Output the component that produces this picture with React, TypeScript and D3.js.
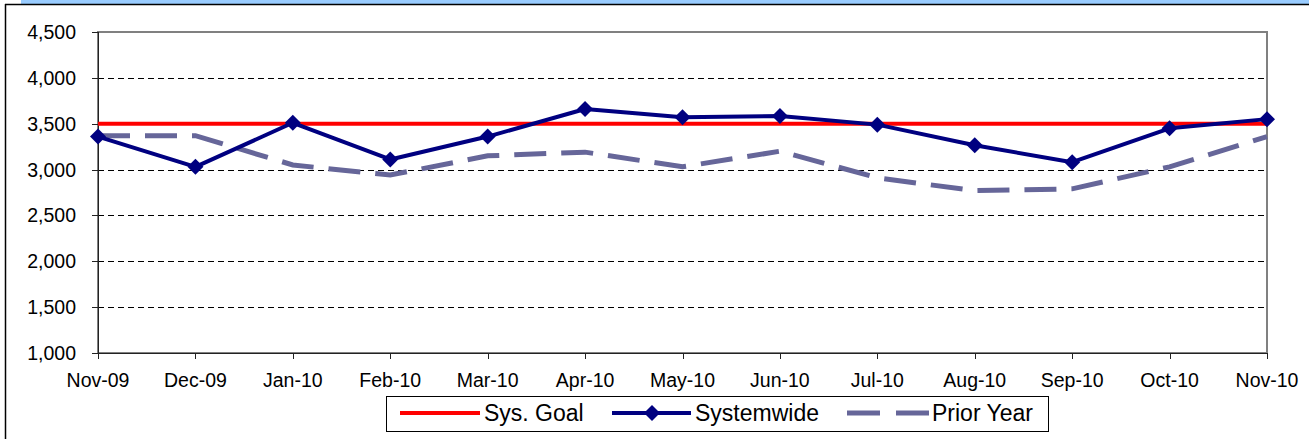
import React from 'react'
import * as d3 from 'd3'

const months = ['Nov-09', 'Dec-09', 'Jan-10', 'Feb-10', 'Mar-10', 'Apr-10', 'May-10', 'Jun-10', 'Jul-10', 'Aug-10', 'Sep-10', 'Oct-10', 'Nov-10']
const sysGoal = [3500, 3500, 3500, 3500, 3500, 3500, 3500, 3500, 3500, 3500, 3500, 3500, 3500]
const systemwide = [3360, 3030, 3510, 3110, 3360, 3660, 3570, 3585, 3490, 3265, 3080, 3450, 3550]
const priorYear = [3370, 3370, 3050, 2940, 3150, 3190, 3030, 3200, 2910, 2770, 2790, 3030, 3360]
const yTicks = [1000, 1500, 2000, 2500, 3000, 3500, 4000, 4500]

const W = 1309
const H = 439
const plot = { left: 98, right: 1267, top: 32, bottom: 353 }
const font = '"Liberation Sans", Arial, sans-serif'

export default function App() {
  const x = d3.scalePoint<string>().domain(months).range([plot.left, plot.right])
  const y = d3.scaleLinear().domain([1000, 4500]).range([plot.bottom, plot.top])

  const line = d3.line<number>()
    .x((_, i) => x(months[i]) as number)
    .y(d => y(d))

  const diamond = (cx: number, cy: number, r = 8) =>
    `M${cx},${cy - r}L${cx + r},${cy}L${cx},${cy + r}L${cx - r},${cy}Z`

  return (
    <svg width={W} height={H} style={{ position: 'absolute', left: 0, top: 0, background: '#fff' }}>
      {/* title band, cut off at the top */}
      <rect x={21} y={0} width={W - 21} height={4} fill='#99ccff' />
      <line x1={5} y1={4.5} x2={W} y2={4.5} stroke='#000' strokeWidth={1.5} />
      <line x1={5.5} y1={4} x2={5.5} y2={H} stroke='#000' strokeWidth={1.5} />

      {/* plot frame */}
      <rect x={plot.left} y={plot.top} width={plot.right - plot.left} height={plot.bottom - plot.top}
        fill='#fff' stroke='#808080' strokeWidth={2} />

      {/* gridlines */}
      {yTicks.filter(t => t !== 1000 && t !== 4500).map(t => (
        <line key={t} x1={plot.left} x2={plot.right} y1={Math.round(y(t)) + 0.5} y2={Math.round(y(t)) + 0.5}
          stroke='#000' strokeDasharray='6,4' strokeWidth={1} />
      ))}

      {/* axes */}
      <line x1={plot.left + 0.5} x2={plot.left + 0.5} y1={plot.top} y2={plot.bottom} stroke='#222' />
      <line x1={plot.left} x2={plot.right} y1={plot.bottom + 0.5} y2={plot.bottom + 0.5} stroke='#222' />
      {yTicks.map(t => (
        <g key={t}>
          <line x1={plot.left - 6} x2={plot.left} y1={Math.round(y(t)) + 0.5} y2={Math.round(y(t)) + 0.5} stroke='#222' />
          <text x={76} y={y(t) + 7} textAnchor='end' fontFamily={font} fontSize={19.5} fill='#000'>
            {d3.format(',')(t)}
          </text>
        </g>
      ))}
      {months.map(m => (
        <g key={m}>
          <line x1={Math.round(x(m) as number) + 0.5} x2={Math.round(x(m) as number) + 0.5}
            y1={plot.bottom} y2={plot.bottom + 6} stroke='#222' />
          <text x={x(m)} y={387} textAnchor='middle' fontFamily={font} fontSize={19.5} fill='#000'>{m}</text>
        </g>
      ))}

      {/* series */}
      <path d={line(priorYear) ?? ''} fill='none' stroke='#666699' strokeWidth={5} strokeDasharray='32,15' />
      <path d={line(sysGoal) ?? ''} fill='none' stroke='#ff0000' strokeWidth={4} />
      <path d={line(systemwide) ?? ''} fill='none' stroke='#000080' strokeWidth={4} strokeLinejoin='round' />
      {systemwide.map((v, i) => (
        <path key={i} d={diamond(x(months[i]) as number, y(v))} fill='#000080' />
      ))}

      {/* legend */}
      <rect x={386.5} y={396.5} width={662} height={35} fill='#fff' stroke='#000' strokeWidth={1} />
      <line x1={400} x2={480} y1={413} y2={413} stroke='#ff0000' strokeWidth={4} />
      <text x={484} y={421} fontFamily={font} fontSize={23} fill='#000'>Sys. Goal</text>
      <line x1={612} x2={691} y1={413} y2={413} stroke='#000080' strokeWidth={4} />
      <path d={diamond(652, 413)} fill='#000080' />
      <text x={695} y={421} fontFamily={font} fontSize={23} fill='#000'>Systemwide</text>
      <line x1={847} x2={929} y1={413} y2={413} stroke='#666699' strokeWidth={5} strokeDasharray='33,16' />
      <text x={932} y={421} fontFamily={font} fontSize={23} fill='#000'>Prior Year</text>
    </svg>
  )
}
